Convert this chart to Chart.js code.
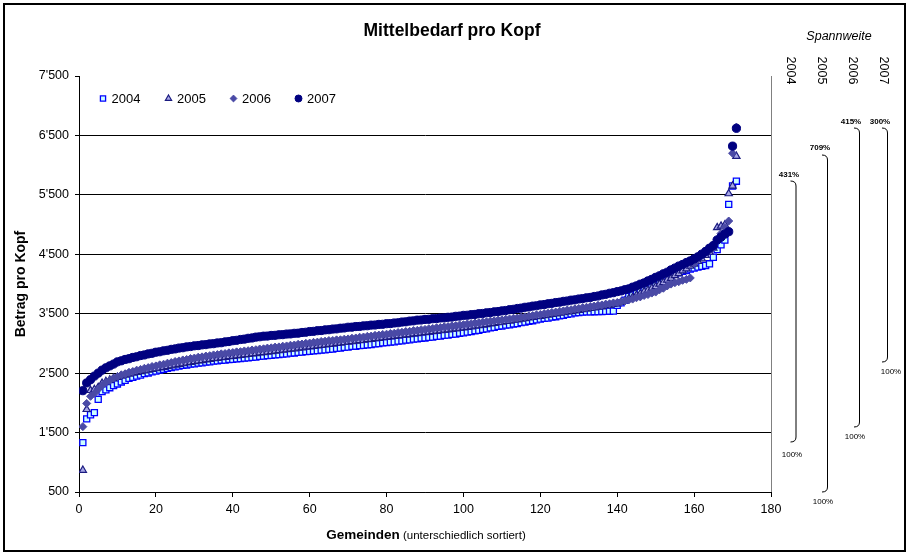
<!DOCTYPE html>
<html>
<head>
<meta charset="utf-8">
<title>Mittelbedarf pro Kopf</title>
<script src="https://cdn.jsdelivr.net/npm/chart.js@4/dist/chart.umd.min.js"></script>
<style>
  html, body { margin: 0; padding: 0; background: #fff; }
  canvas { display: block; }
</style>
</head>
<body>
<canvas id="chart" width="909" height="555"></canvas>
<script>
// Series labels (years)
const years = ['2004', '2005', '2006', '2007'];

// Amount per head, municipalities sorted ascending per year (rank 1..171)
const v2004 = [
  1330, 1730, 1800, 1835, 2060, 2190, 2220, 2255, 2290, 2318,
  2352, 2378, 2412, 2428, 2452, 2468, 2491, 2503, 2522, 2533,
  2551, 2563, 2582, 2593, 2607, 2618, 2632, 2638, 2652, 2658,
  2669, 2674, 2686, 2690, 2702, 2706, 2718, 2721, 2730, 2733,
  2741, 2745, 2754, 2757, 2767, 2771, 2782, 2786, 2796, 2799,
  2808, 2812, 2822, 2826, 2836, 2840, 2851, 2854, 2864, 2867,
  2875, 2879, 2889, 2892, 2902, 2906, 2918, 2922, 2934, 2938,
  2950, 2953, 2964, 2967, 2978, 2982, 2994, 2998, 3010, 3013,
  3024, 3028, 3040, 3044, 3056, 3060, 3072, 3076, 3088, 3092,
  3104, 3108, 3120, 3124, 3136, 3140, 3152, 3158, 3172, 3178,
  3192, 3198, 3214, 3222, 3238, 3246, 3262, 3270, 3286, 3294,
  3308, 3314, 3328, 3334, 3350, 3358, 3374, 3382, 3398, 3408,
  3422, 3428, 3442, 3450, 3466, 3474, 3490, 3498, 3514, 3520,
  3527, 3530, 3531, 3534, 3535, 3538, 3539, 3542, 3545, 3640,
  3682, 3728, 3792, 3818, 3852, 3878, 3907, 3928, 3962, 3988,
  4032, 4068, 4112, 4138, 4167, 4188, 4212, 4228, 4252, 4268,
  4286, 4298, 4312, 4340, 4450, 4580, 4660, 4740, 5340, 5650,
  5730
];
const v2005 = [
  867, 1890, 2210, 2225, 2260, 2330, 2360, 2385, 2410, 2430,
  2450, 2468, 2485, 2500, 2515, 2528, 2540, 2552, 2564, 2576,
  2588, 2600, 2612, 2624, 2636, 2648, 2660, 2672, 2684, 2695,
  2706, 2713, 2726, 2734, 2745, 2751, 2761, 2767, 2778, 2783,
  2793, 2799, 2810, 2815, 2825, 2831, 2842, 2847, 2857, 2863,
  2873, 2879, 2889, 2895, 2906, 2911, 2921, 2927, 2938, 2943,
  2953, 2959, 2970, 2975, 2985, 2991, 3002, 3007, 3017, 3023,
  3033, 3039, 3050, 3055, 3065, 3071, 3082, 3087, 3097, 3103,
  3113, 3119, 3130, 3135, 3145, 3151, 3162, 3167, 3177, 3183,
  3193, 3199, 3210, 3215, 3225, 3231, 3242, 3247, 3257, 3263,
  3273, 3279, 3292, 3299, 3311, 3318, 3332, 3338, 3351, 3358,
  3371, 3378, 3392, 3398, 3411, 3418, 3432, 3438, 3451, 3458,
  3471, 3478, 3492, 3498, 3511, 3518, 3532, 3538, 3551, 3558,
  3571, 3578, 3592, 3598, 3612, 3618, 3634, 3642, 3658, 3666,
  3692, 3716, 3752, 3776, 3812, 3836, 3872, 3896, 3932, 3956,
  3998, 4026, 4068, 4096, 4143, 4176, 4224, 4256, 4304, 4336,
  4384, 4426, 4484, 4536, 4604, 4950, 4975, 4995, 5520, 5650,
  6150
];
const v2006 = [
  1600, 1990, 2110, 2160, 2230, 2290, 2342, 2378, 2417, 2443,
  2472, 2490, 2514, 2528, 2550, 2563, 2582, 2593, 2612, 2622,
  2640, 2650, 2668, 2678, 2696, 2706, 2722, 2730, 2746, 2754,
  2768, 2774, 2788, 2794, 2807, 2812, 2825, 2830, 2842, 2846,
  2858, 2862, 2874, 2878, 2890, 2894, 2906, 2910, 2922, 2926,
  2938, 2942, 2954, 2958, 2970, 2974, 2986, 2990, 3002, 3006,
  3018, 3022, 3034, 3038, 3048, 3050, 3060, 3062, 3072, 3076,
  3088, 3092, 3104, 3108, 3120, 3124, 3136, 3140, 3152, 3156,
  3168, 3172, 3184, 3188, 3200, 3204, 3216, 3220, 3232, 3236,
  3248, 3252, 3264, 3268, 3280, 3284, 3296, 3300, 3312, 3316,
  3328, 3332, 3344, 3348, 3360, 3364, 3376, 3380, 3392, 3396,
  3408, 3412, 3424, 3428, 3442, 3448, 3462, 3468, 3482, 3488,
  3502, 3508, 3522, 3528, 3542, 3548, 3562, 3568, 3582, 3588,
  3602, 3608, 3622, 3628, 3642, 3648, 3662, 3668, 3682, 3688,
  3702, 3713, 3732, 3746, 3768, 3783, 3807, 3823, 3847, 3864,
  3902, 3928, 3967, 3998, 4022, 4038, 4062, 4078, 4102, 4350,
  4420, 4480, 4530, 4570, 4610, 4750, 4850, 4950, 5060, 6200,
  6640
];
const v2007 = [
  2205, 2335, 2390, 2450, 2500, 2550, 2590, 2622, 2653, 2690,
  2708, 2730, 2743, 2764, 2776, 2796, 2806, 2824, 2834, 2852,
  2860, 2876, 2884, 2900, 2908, 2922, 2928, 2942, 2948, 2960,
  2964, 2976, 2980, 2992, 2996, 3008, 3012, 3026, 3032, 3046,
  3052, 3066, 3072, 3086, 3092, 3106, 3112, 3122, 3124, 3134,
  3136, 3146, 3148, 3158, 3160, 3170, 3172, 3184, 3188, 3200,
  3203, 3214, 3217, 3228, 3231, 3242, 3245, 3256, 3260, 3272,
  3274, 3284, 3286, 3296, 3298, 3308, 3310, 3320, 3322, 3332,
  3334, 3344, 3348, 3360, 3364, 3376, 3380, 3392, 3394, 3404,
  3406, 3416, 3418, 3428, 3430, 3440, 3444, 3456, 3460, 3472,
  3474, 3484, 3488, 3500, 3504, 3516, 3520, 3532, 3536, 3548,
  3554, 3568, 3574, 3588, 3594, 3608, 3614, 3628, 3634, 3648,
  3654, 3668, 3674, 3688, 3694, 3708, 3714, 3728, 3734, 3748,
  3754, 3768, 3774, 3790, 3798, 3816, 3826, 3844, 3854, 3872,
  3884, 3904, 3918, 3947, 3968, 3997, 4018, 4052, 4078, 4112,
  4138, 4172, 4198, 4237, 4268, 4302, 4328, 4362, 4388, 4422,
  4458, 4502, 4548, 4602, 4648, 4740, 4790, 4840, 4880, 6320,
  6620
];

// Axis ticks
const xTicks = [0, 20, 40, 60, 80, 100, 120, 140, 160, 180];
const yTicks = [500, 1500, 2500, 3500, 4500, 5500, 6500, 7500];

const seriesValues = [v2004, v2005, v2006, v2007];

const FONT = "'Liberation Sans', Arial, Helvetica, sans-serif";

const markerStyles = [
  { pointStyle: 'rect',     radius: 4.3, fill: '#ccffff', stroke: '#0000ff', width: 1.3 },
  { pointStyle: 'triangle', radius: 4.2, fill: '#a8a8e6', stroke: '#1a1a80', width: 1.2 },
  { pointStyle: 'rectRot',  radius: 4.0, fill: '#4a4aa6', stroke: '#4a4aa6', width: 1 },
  { pointStyle: 'circle',   radius: 4.1, fill: '#000080', stroke: '#000080', width: 1 }
];

const fmtThousands = v => String(v).replace(/\B(?=(\d{3})+(?!\d))/g, "'");

const datasets = years.map((yr, i) => {
  const st = markerStyles[i];
  return {
    label: yr,
    data: seriesValues[i].map((v, k) => ({ x: k + 1, y: v })),
    pointStyle: st.pointStyle,
    pointRadius: st.radius,
    pointHoverRadius: st.radius,
    pointBackgroundColor: st.fill,
    pointBorderColor: st.stroke,
    pointBorderWidth: st.width,
    showLine: false,
    order: years.length - i   // later years drawn on top
  };
});

// Range brackets ("Spannweite") at the right of the plot
const braces = [
  { x: 796,   top: 181, bottom: 442, hiX: 789, hiY: 175, loX: 792, loY: 455, yearX: 790 },
  { x: 827.5, top: 155, bottom: 492, hiX: 820, hiY: 148, loX: 823, loY: 502, yearX: 821 },
  { x: 859.5, top: 128, bottom: 427, hiX: 851, hiY: 122, loX: 855, loY: 437, yearX: 852 },
  { x: 887.5, top: 128, bottom: 362, hiX: 880, hiY: 122, loX: 891, loY: 372, yearX: 883 }
];

const decorations = {
  id: 'decorations',
  beforeDraw(chart) {
    const ctx = chart.ctx;
    ctx.save();
    ctx.fillStyle = '#fff';
    ctx.fillRect(0, 0, chart.width, chart.height);
    ctx.restore();
  },
  afterDraw(chart) {
    const ctx = chart.ctx;
    const area = chart.chartArea;
    ctx.save();

    // right edge of the plot area
    ctx.strokeStyle = '#808080';
    ctx.lineWidth = 1;
    ctx.beginPath();
    ctx.moveTo(Math.round(area.right) + 0.5, area.top);
    ctx.lineTo(Math.round(area.right) + 0.5, area.bottom);
    ctx.stroke();

    // title
    ctx.fillStyle = '#000';
    ctx.textAlign = 'center';
    ctx.textBaseline = 'middle';
    ctx.font = 'bold 17.5px ' + FONT;
    ctx.fillText('Mittelbedarf pro Kopf', 452, 31);

    // y axis title
    ctx.save();
    ctx.translate(21, (area.top + area.bottom) / 2);
    ctx.rotate(-Math.PI / 2);
    ctx.font = 'bold 14px ' + FONT;
    ctx.fillText('Betrag pro Kopf', 0, 0);
    ctx.restore();

    // x axis title: bold word followed by a smaller note
    const boldPart = 'Gemeinden';
    const plainPart = ' (unterschiedlich sortiert)';
    ctx.font = 'bold 13.5px ' + FONT;
    const wb = ctx.measureText(boldPart).width;
    ctx.font = '11.5px ' + FONT;
    const wp = ctx.measureText(plainPart).width;
    const cx = (area.left + area.right) / 2 + 1;
    let sx = cx - (wb + wp) / 2;
    ctx.textAlign = 'left';
    ctx.textBaseline = 'alphabetic';
    ctx.font = 'bold 13.5px ' + FONT;
    ctx.fillText(boldPart, sx, 539);
    ctx.font = '11.5px ' + FONT;
    ctx.fillText(plainPart, sx + wb, 539);

    // legend inside the plot
    const legendX = [103, 168.5, 233.5, 298.5];
    ctx.font = '13px ' + FONT;
    ctx.textBaseline = 'middle';
    years.forEach((yr, i) => {
      const st = markerStyles[i];
      ctx.fillStyle = st.fill;
      ctx.strokeStyle = st.stroke;
      ctx.lineWidth = st.width;
      Chart.helpers.drawPoint(ctx, {
        pointStyle: st.pointStyle,
        radius: st.radius * 0.85,
        rotation: 0,
        borderWidth: st.width
      }, legendX[i], 98.5);
      ctx.fillStyle = '#000';
      ctx.fillText(yr, legendX[i] + 8.5, 99);
    });

    // range annotation
    ctx.fillStyle = '#000';
    ctx.textAlign = 'center';
    ctx.font = 'italic 12.5px ' + FONT;
    ctx.fillText('Spannweite', 839, 37);

    ctx.font = '12.5px ' + FONT;
    braces.forEach((b, i) => {
      ctx.save();
      ctx.translate(b.yearX, 70.5);
      ctx.rotate(Math.PI / 2);
      ctx.textAlign = 'center';
      ctx.textBaseline = 'middle';
      ctx.fillText(years[i], 0, 0);
      ctx.restore();
    });

    ctx.strokeStyle = '#000';
    ctx.lineWidth = 1;
    braces.forEach((b, i) => {
      const vals = seriesValues[i];
      const ratio = Math.round(Math.max(...vals) / Math.min(...vals) * 100);
      ctx.beginPath();
      ctx.moveTo(b.x - 5.5, b.top);
      ctx.quadraticCurveTo(b.x, b.top, b.x, b.top + 5);
      ctx.lineTo(b.x, b.bottom - 5);
      ctx.quadraticCurveTo(b.x, b.bottom, b.x - 5.5, b.bottom);
      ctx.stroke();

      ctx.textAlign = 'center';
      ctx.textBaseline = 'middle';
      ctx.font = 'bold 8px ' + FONT;
      ctx.fillText(ratio + '%', b.hiX, b.hiY);
      ctx.font = '8px ' + FONT;
      ctx.fillText('100%', b.loX, b.loY);
    });

    // outer frame
    ctx.strokeStyle = '#000';
    ctx.lineWidth = 2;
    ctx.strokeRect(4, 4, chart.width - 8, chart.height - 8);

    ctx.restore();
  }
};

new Chart(document.getElementById('chart'), {
  type: 'scatter',
  data: { datasets },
  options: {
    responsive: false,
    animation: false,
    devicePixelRatio: 1,
    layout: { padding: { left: 0, top: 76, right: 138, bottom: 0 } },
    plugins: {
      legend: { display: false },
      title: { display: false },
      tooltip: { enabled: false }
    },
    scales: {
      x: {
        type: 'linear',
        min: xTicks[0],
        max: xTicks[xTicks.length - 1],
        afterBuildTicks: s => { s.ticks = xTicks.map(v => ({ value: v })); },
        afterFit: s => { s.height = 63; },
        grid: { drawOnChartArea: false, drawTicks: true, tickLength: 5, tickColor: '#000' },
        border: { display: true, color: '#000', width: 1 },
        ticks: {
          color: '#000',
          font: { family: FONT, size: 12.5 },
          padding: 5,
          maxRotation: 0,
          callback: v => String(v)
        }
      },
      y: {
        type: 'linear',
        min: yTicks[0],
        max: yTicks[yTicks.length - 1],
        afterBuildTicks: s => { s.ticks = yTicks.map(v => ({ value: v })); },
        afterFit: s => { s.width = 79; },
        grid: {
          color: c => (c.tick && c.tick.value === yTicks[yTicks.length - 1]) ? 'rgba(0,0,0,0)' : '#000',
          tickColor: '#000',
          tickLength: 4,
          lineWidth: 1
        },
        border: { display: true, color: '#000', width: 1 },
        ticks: {
          color: '#000',
          font: { family: FONT, size: 12.5 },
          padding: 6,
          callback: v => fmtThousands(v)
        }
      }
    }
  },
  plugins: [decorations]
});
</script>
</body>
</html>
